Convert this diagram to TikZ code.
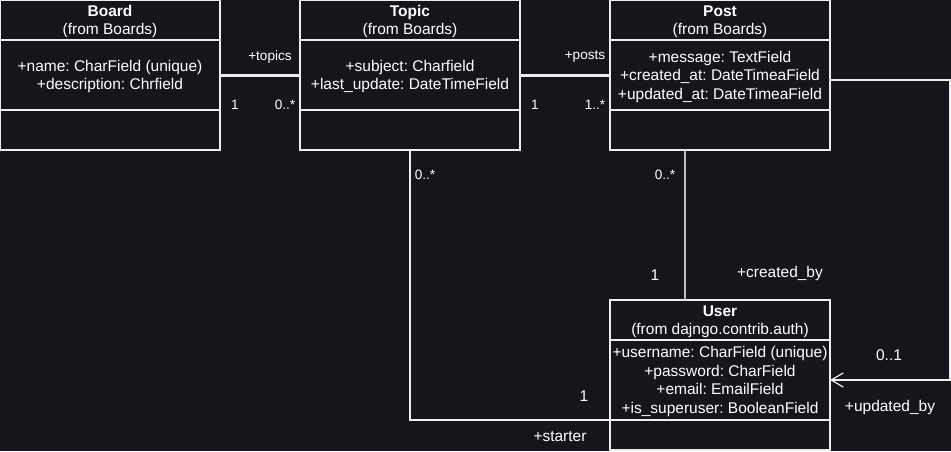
\documentclass[tikz,border=0pt]{standalone}
\usepackage{fontspec}
\setmainfont{Liberation Sans}
\usetikzlibrary{positioning,arrows.meta}
\definecolor{canvas}{RGB}{23,21,28}
\definecolor{wire}{RGB}{238,238,238}
\definecolor{link}{RGB}{190,190,190}
\frenchspacing
\begin{document}
\begin{tikzpicture}[x=1pt,y=-1pt,
  classhead/.style={draw=wire, line width=1.2pt, outer sep=0pt, inner sep=0pt,
    minimum width=220pt, minimum height=40pt, align=center, text=white,
    text depth=-0.7pt, font=\fontsize{15.5}{18.5}\selectfont},
  classpart/.style={classhead},
  assoc/.style={draw=wire, line width=1.2pt},
  heavy/.style={draw=wire, line width=3pt},
  lbl/.style={text=white, inner sep=0pt, font=\fontsize{13.6}{16}\selectfont},
  biglbl/.style={lbl, font=\fontsize{15.5}{17}\selectfont}]
\def\umlclass#1#2#3#4#5#6{
  \node[classhead, anchor=north] (#1head) at #2 {#3};
  \node[classpart, minimum height=#5, below=0pt of #1head] (#1attr) {#4};
  \node[classpart, minimum height=#6, below=0pt of #1attr] (#1meth) {};
}
\fill[canvas] (0,0) rectangle (951,451);
\useasboundingbox (0,0) rectangle (951,451);
    % Classes
\umlclass{board}{(110,0)}{\textbf{Board}\\(from Boards)}
  {+name: CharField (unique)\\+description: Chrfield}{70pt}{40pt}
\umlclass{topic}{(410,0)}{\textbf{Topic}\\(from Boards)}
  {+subject: Charfield\\+last\_update: DateTimeField}{70pt}{40pt}
\umlclass{post}{(720,0)}{\textbf{Post}\\(from Boards)}
  {+message: TextField\\+created\_at: DateTimeaField\\+updated\_at: DateTimeaField}{70pt}{40pt}
\umlclass{user}{(720,300)}{\textbf{User}\\(from dajngo.contrib.auth)}
  {+username: CharField (unique)\\+password: CharField\\+email: EmailField\\+is\_superuser: BooleanField}{80pt}{30pt}
    % Associations
\draw[heavy] (boardattr.east) -- (topicattr.west);
\draw[heavy] (topicattr.east) -- (postattr.west);
\draw[assoc] (topicmeth.south) |- (userattr.south west);
\draw[draw=link, line width=2pt] ([xshift=-35pt]postmeth.south) -- ([xshift=-35pt]userhead.north);
\draw[assoc, -{Straight Barb[length=12pt,width=14pt,line width=1.2pt]}]
  ([yshift=-5pt]postattr.east) -- ++(120,0) |- (userattr.east);
    % Roles and multiplicities
\foreach \nm/\x/\y/\txt in {topicsrole/270/57/+topics, boardone/235/105/1, topicmany/285/105/0..*,
    postsrole/585/57/+posts, topicone/535/105/1, postmany/595/105/1..*,
    startmany/425/175/0..*, createdmany/665/175/0..*}
  \node[lbl] (\nm) at (\x,\y) {\txt};
\foreach \nm/\x/\y/\txt in {starterone/584/396/1, starterrole/560/437/+starter,
    createdone/655/275/1, createdrole/780/273/+created\_by,
    updatedone/889/355/0..1, updatedrole/890/407/+updated\_by}
  \node[biglbl] (\nm) at (\x,\y) {\txt};
\end{tikzpicture}
\end{document}
